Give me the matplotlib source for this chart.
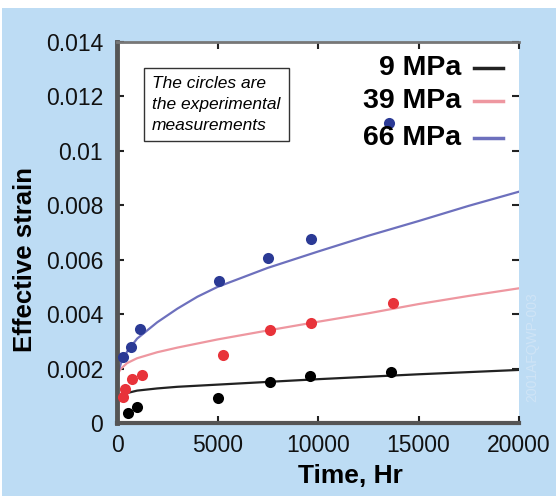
import matplotlib
matplotlib.use("Agg")
import matplotlib.pyplot as plt
from matplotlib.patches import Rectangle

# experimental measurements (hours, effective strain)
hours_9 = [560, 1010, 5040, 7610, 9600, 13620]
strain_9 = [0.00036, 0.00060, 0.00091, 0.00152, 0.00173, 0.00189]

hours_39 = [310, 400, 730, 1230, 5260, 7610, 9650, 13720]
strain_39 = [0.00097, 0.00124, 0.00161, 0.00175, 0.00250, 0.00342, 0.00369, 0.00442]

hours_66 = [280, 680, 1140, 5080, 7530, 9650, 13530]
strain_66 = [0.00241, 0.00280, 0.00345, 0.00522, 0.00605, 0.00675, 0.01102]

# model curves
curve_hours = [30, 200, 500, 1000, 2000, 3000, 4000, 5000, 7500, 10000, 12500,
               15000, 17500, 20000]
curve_9 = [0.00090, 0.00100, 0.00110, 0.00119, 0.00127, 0.00133, 0.00137, 0.00141,
           0.00151, 0.00161, 0.00170, 0.00179, 0.00187, 0.00195]
curve_39 = [0.00180, 0.00200, 0.00220, 0.00238, 0.00260, 0.00277, 0.00292, 0.00307,
            0.00340, 0.00372, 0.00403, 0.00437, 0.00467, 0.00495]
curve_66 = [0.00180, 0.00220, 0.00262, 0.00310, 0.00370, 0.00420, 0.00464, 0.00500,
            0.00570, 0.00630, 0.00688, 0.00742, 0.00798, 0.00850]

labels = ["9 MPa", "39 MPa", "66 MPa"]
line_colors = ["#222222", "#ee97a0", "#6d70bd"]
dot_colors = ["#000000", "#e8333a", "#2b3a95"]

plt.rcParams["font.family"] = ["Liberation Sans", "DejaVu Sans"]

W, H = 556, 496
fig = plt.figure(figsize=(W / 100, H / 100), dpi=100, facecolor="#bddcf4")
# white strips along the top and left edges
fig.patches.append(Rectangle((0, 1 - 8 / H), 1, 8 / H, transform=fig.transFigure,
                             facecolor="white", edgecolor="none", zorder=-1))
fig.patches.append(Rectangle((0, 0), 2 / W, 1, transform=fig.transFigure,
                             facecolor="white", edgecolor="none", zorder=-1))

ax = fig.add_axes([117 / W, 1 - 423 / H, (519 - 117) / W, (423 - 42) / H])
ax.set_facecolor("white")

curves = [curve_9, curve_39, curve_66]
points = [(hours_9, strain_9), (hours_39, strain_39), (hours_66, strain_66)]
for curve, lc in zip(curves, line_colors):
    ax.plot(curve_hours, curve, color=lc, lw=1.6, zorder=2)
for (hx, sy), dc in zip(points, dot_colors):
    ax.plot(hx, sy, "o", color=dc, ms=8, mec="none", zorder=3, clip_on=False)

ax.set_xlim(0, 20000)
ax.set_ylim(0, 0.014)
ax.set_xticks([0, 5000, 10000, 15000, 20000])
ax.set_yticks([0, 0.002, 0.004, 0.006, 0.008, 0.01, 0.012, 0.014])
ax.set_yticklabels(["0", "0.002", "0.004", "0.006", "0.008", "0.01", "0.012", "0.014"])

ax.spines["right"].set_visible(False)
ax.spines["left"].set_linewidth(3.5)
ax.spines["left"].set_color("#555555")
ax.spines["bottom"].set_linewidth(3)
ax.spines["bottom"].set_color("#555555")
ax.spines["top"].set_linewidth(2)
ax.spines["top"].set_color("#777777")

ax.tick_params(axis="both", direction="in", length=5, width=1.5, color="#222222",
               labelsize=16.5, labelcolor="#111111", top=True, right=True)
ax.tick_params(axis="y", pad=10)
ax.tick_params(axis="x", pad=8)

ax.set_xlabel("Time, Hr", fontsize=19, fontweight="bold", va="top")
ax.xaxis.set_label_coords(0.58, -0.108)
ax.set_ylabel("Effective strain", fontsize=18.5, fontweight="bold")
ax.yaxis.set_label_coords(-0.2, 0.428)

# note box
fig.text(152 / W, 1 - 76 / H, "The circles are\nthe experimental\nmeasurements",
         fontsize=12.5, style="italic", va="top", ha="left", linespacing=1.5,
         bbox=dict(boxstyle="square,pad=0.48", facecolor="white", edgecolor="#333333", lw=1))

# legend drawn by hand
legend_y = [68, 101, 138]
for lab, lc, ly in zip(labels, line_colors, legend_y):
    fig.text(461 / W, 1 - ly / H, lab, fontsize=20.5, fontweight="bold",
             ha="right", va="center")
    fig.add_artist(plt.Line2D([474 / W, 503 / W], [1 - ly / H, 1 - ly / H],
                              transform=fig.transFigure, color=lc, lw=2.5))

fig.text(532 / W, 1 - 347 / H, "2001AFQWP-003", rotation=90, fontsize=10,
         color="#cfe4f6", ha="center", va="center")

fig.savefig("out.png", dpi=100, facecolor=fig.get_facecolor())
